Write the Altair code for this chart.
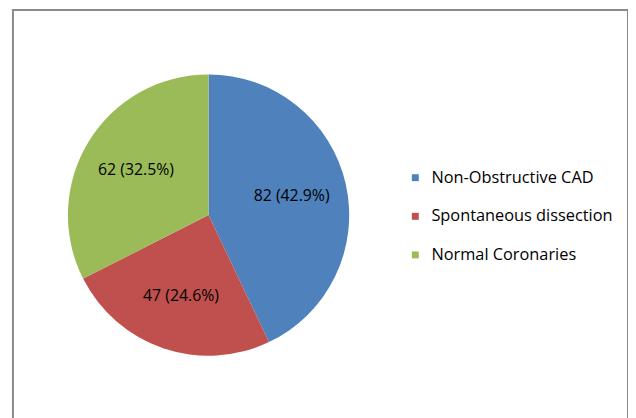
import altair as alt
import pandas as pd

categories = ["Non-Obstructive CAD", "Spontaneous dissection", "Normal Coronaries"]
counts = [82, 47, 62]
percents = ["42.9%", "24.6%", "32.5%"]
colors = ["#4F81BD", "#C0504D", "#9BBB59"]

df = pd.DataFrame({
    "category": categories,
    "count": counts,
    "order": list(range(len(categories))),
    "label": [f"{c} ({p})" for c, p in zip(counts, percents)],
})

FONT = "Open Sans"
CX, CY = 197.5, 207

base = alt.Chart(df).encode(
    theta=alt.Theta("count:Q", stack=True),
    order=alt.Order("order:Q"),
)

arcs = base.mark_arc(outerRadius=142).encode(
    x=alt.value(CX),
    y=alt.value(CY),
    color=alt.Color(
        "category:N",
        scale=alt.Scale(domain=categories, range=colors),
        sort=categories,
        legend=alt.Legend(
            title=None,
            orient="none",
            legendX=398,
            legendY=161,
            symbolType="square",
            symbolSize=49,
            symbolStrokeWidth=0,
            labelFont=FONT,
            labelFontSize=16.5,
            labelColor="#000000",
            labelOffset=8,
            rowPadding=22,
            padding=0,
            labelLimit=300,
        ),
    ),
)

labels = base.mark_text(radius=86, font=FONT, fontSize=16, color="#000000").encode(
    x=alt.value(CX),
    y=alt.value(CY),
    text="label:N",
)

chart = (
    alt.layer(arcs, labels)
    .properties(
        width=621,
        height=430,
        padding={"left": 5, "top": 0, "right": 0, "bottom": 0},
        autosize=alt.AutoSizeParams(type="none"),
        background="white",
    )
    .configure_view(stroke="#8a8a8a", strokeWidth=2)
)

chart.save("out.html", embed_options={"renderer": "svg", "actions": False})
